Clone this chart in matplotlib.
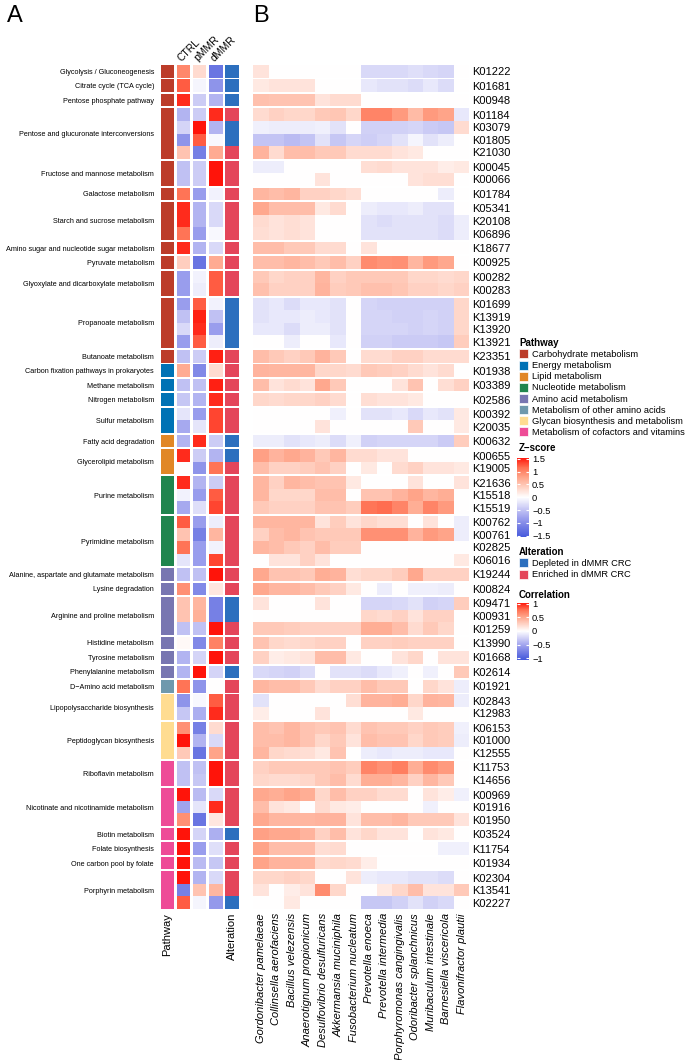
import matplotlib
matplotlib.use('Agg')
import matplotlib.pyplot as plt
import numpy as np
from matplotlib.colors import ListedColormap, LinearSegmentedColormap, Normalize
from matplotlib.patches import Patch
import matplotlib.cm as cm

plt.rcParams['font.family'] = ['Liberation Sans', 'DejaVu Sans']

categories = ['Carbohydrate metabolism', 'Energy metabolism', 'Lipid metabolism',
              'Nucleotide metabolism', 'Amino acid metabolism',
              'Metabolism of other amino acids', 'Glycan biosynthesis and metabolism',
              'Metabolism of cofactors and vitamins']
cat_colors = ['#BC3C29', '#0072B5', '#E18727', '#20854E', '#7876B1', '#6F99AD', '#FFDC91', '#EE4C97']

pathways = ['Glycolysis / Gluconeogenesis', 'Citrate cycle (TCA cycle)', 'Pentose phosphate pathway',
            'Pentose and glucuronate interconversions', 'Fructose and mannose metabolism',
            'Galactose metabolism', 'Starch and sucrose metabolism',
            'Amino sugar and nucleotide sugar metabolism', 'Pyruvate metabolism',
            'Glyoxylate and dicarboxylate metabolism', 'Propanoate metabolism', 'Butanoate metabolism',
            'Carbon fixation pathways in prokaryotes', 'Methane metabolism', 'Nitrogen metabolism',
            'Sulfur metabolism', 'Fatty acid degradation', 'Glycerolipid metabolism',
            'Purine metabolism', 'Pyrimidine metabolism',
            'Alanine, aspartate and glutamate metabolism', 'Lysine degradation',
            'Arginine and proline metabolism', 'Histidine metabolism', 'Tyrosine metabolism',
            'Phenylalanine metabolism', 'D\u2212Amino acid metabolism',
            'Lipopolysaccharide biosynthesis', 'Peptidoglycan biosynthesis', 'Riboflavin metabolism',
            'Nicotinate and nicotinamide metabolism', 'Biotin metabolism', 'Folate biosynthesis',
            'One carbon pool by folate', 'Porphyrin metabolism']
pathway_cat = [0]*12 + [1]*4 + [2]*2 + [3]*2 + [4]*6 + [5] + [6]*2 + [7]*6
pathway_kos = [['K01222'], ['K01681'], ['K00948'], ['K01184', 'K03079', 'K01805', 'K21030'],
               ['K00045', 'K00066'], ['K01784'], ['K05341', 'K20108', 'K06896'], ['K18677'],
               ['K00925'], ['K00282', 'K00283'], ['K01699', 'K13919', 'K13920', 'K13921'],
               ['K23351'], ['K01938'], ['K03389'], ['K02586'], ['K00392', 'K20035'], ['K00632'],
               ['K00655', 'K19005'], ['K21636', 'K15518', 'K15519'],
               ['K00762', 'K00761', 'K02825', 'K06016'], ['K19244'], ['K00824'],
               ['K09471', 'K00931', 'K01259'], ['K13990'], ['K01668'], ['K02614'], ['K01921'],
               ['K02843', 'K12983'], ['K06153', 'K01000', 'K12555'], ['K11753', 'K14656'],
               ['K00969', 'K01916', 'K01950'], ['K03524'], ['K11754'], ['K01934'],
               ['K02304', 'K13541', 'K02227']]

groups = ['CTRL', 'pMMR', 'dMMR']
ctrl = [0.95, 1.2, 1.4, -0.6, -0.35, -0.9, 0.5, -0.5, -0.5, 1.1, 1.4, 1.4, 1.1, 1.4, 0.4,
        -0.8, -0.8, -0.8, -0.5, -0.3, -0.8, -0.5, 0.7, -0.5, -0.45, -0.2, -0.7, -0.6, 1.4, 0.02,
        1.4, -0.1, -0.7, 1.2, 0.5, 1.1, -0.2, -0.5, 0.9, 0.5, 0.5, -0.5, 0.05, -0.6, -0.6, 1.1,
        -0.9, -0.45, 0.9, 1.5, 0.45, -0.5, -0.5, 1.5, -0.75, 0.9, 1.5, 1.5, 1.5, 1.5, -1.1, 1.2]
pmmr = [0.3, -0.08, -0.4, -0.4, 1.5, 1.2, -1.1, -0.4, -0.4, -0.8, -0.6, -0.6, -0.8, -0.6, -1.2,
        -0.1, -0.15, 1.2, 1.45, 1.4, 1.2, -0.4, -1.0, -0.5, -0.6, -0.8, -0.2, 1.4, -0.4, -0.9,
        -0.6, -0.8, -0.25, -0.8, -1.1, -0.8, -0.8, -0.5, -1.0, 0.6, 0.65, -0.5, -1.0, -0.35,
        1.5, -0.9, -0.05, -0.65, -1.1, -0.6, -1.2, -0.5, -0.45, -0.55, -0.2, -1.2, -0.35, -0.8,
        -0.55, -0.6, 0.5, -0.08]
dmmr = [-1.2, -0.9, -0.6, 1.4, -0.6, -0.05, 0.7, 1.5, 1.5, -0.1, -0.3, -0.3, -0.05, -0.3, 0.7,
        1.2, 1.2, -0.1, -0.5, -0.8, -0.15, 1.45, 0.3, 1.45, 1.4, 1.3, 1.3, -0.4, -0.6, 1.1, -0.4,
        1.2, 1.3, -0.15, 0.6, -0.1, 1.3, 1.5, 0.2, -1.1, -1.1, 1.5, 1.0, 1.5, -0.35, 0.0, 1.2,
        1.4, 0.3, -0.3, 0.75, 1.5, 1.5, -0.3, 1.4, 0.2, -0.65, -0.25, -0.45, -0.3, 0.6, -0.85]

alt_labels = ['Depleted in dMMR CRC', 'Enriched in dMMR CRC']
alt_colors = ['#2C6FBE', '#E4465A']
alteration = [0, 0, 0, 1, 0, 0, 1, 1, 1, 1, 1, 1, 1, 1, 1, 1, 1, 0, 0, 0, 0, 1, 1, 1, 1, 1, 1,
              0, 0, 1, 1, 1, 1, 1, 1, 1, 1, 1, 1, 0, 0, 1, 1, 1, 0, 1, 1, 1, 1, 1, 1, 1, 1, 1,
              1, 1, 0, 1, 1, 1, 1, 0]

species = ['Gordonibacter pamelaeae', 'Collinsella aerofaciens', 'Bacillus velezensis',
           'Anaerotignum propionicum', 'Desulfovibrio desulfuricans', 'Akkermansia muciniphila',
           'Fusobacterium nucleatum', 'Prevotella enoeca', 'Prevotella intermedia',
           'Porphyromonas cangingivalis', 'Odoribacter splanchnicus', 'Muribaculum intestinale',
           'Barnesiella viscericola', 'Flavonifractor plautii']

corr = [
    [0.15, 0, 0, 0, 0, 0, 0, -0.2, -0.2, -0.2, -0.17, -0.2, -0.22, 0],
    [0.12, 0.15, 0.15, 0.15, 0, 0, 0, -0.12, -0.15, -0.15, -0.18, -0.12, -0.18, 0],
    [0.35, 0.33, 0.33, 0.33, 0.15, 0.2, 0.2, 0, 0, 0, 0, 0, 0, 0],
    [0.2, 0.25, 0.22, 0.22, 0.3, 0.32, 0.22, 0.65, 0.65, 0.55, 0.38, 0.55, 0.5, -0.12],
    [-0.08, -0.1, -0.1, -0.1, -0.08, -0.15, 0, -0.25, -0.25, -0.25, -0.22, -0.28, -0.3, 0.2],
    [-0.32, -0.32, -0.36, -0.32, -0.15, -0.3, -0.22, -0.26, -0.22, -0.15, -0.05, -0.15, -0.1, 0],
    [0.42, 0.2, 0.36, 0.36, 0.3, 0.3, 0.2, 0.2, 0.2, 0.15, 0.12, 0, 0, 0],
    [-0.1, -0.1, 0, 0, 0, 0, 0, 0.18, 0.2, 0.15, 0.15, 0.15, 0.1, 0.12],
    [0, 0, 0, 0, 0.15, 0, 0, 0, 0, 0, 0.15, 0.18, 0.18, 0],
    [0.4, 0.36, 0.4, 0.25, 0.25, 0.22, 0.18, 0, 0, 0, 0, 0, -0.1, 0],
    [0.48, 0.36, 0.36, 0.36, 0.12, 0.2, 0, -0.1, -0.12, -0.12, -0.1, -0.15, -0.15, 0],
    [0.2, 0.15, 0.18, 0.15, 0, 0, 0, -0.15, -0.18, -0.15, -0.15, -0.15, -0.18, -0.1],
    [0.18, 0.15, 0.18, 0.15, 0, 0, 0, -0.15, -0.15, -0.15, -0.15, -0.15, -0.18, -0.1],
    [0.36, 0.36, 0.3, 0.3, 0.2, 0.2, 0, 0.15, 0, 0, 0, 0, 0, 0],
    [0.36, 0.36, 0.4, 0.36, 0.3, 0.36, 0.25, 0.62, 0.58, 0.6, 0.4, 0.55, 0.48, 0],
    [0.3, 0.22, 0.25, 0.25, 0.4, 0.25, 0.3, 0.3, 0.3, 0.3, 0.22, 0.22, 0.2, 0.22],
    [0.35, 0.25, 0.25, 0.25, 0.42, 0.28, 0.3, 0.35, 0.35, 0.32, 0.25, 0.25, 0.22, 0.25],
    [-0.15, -0.12, -0.18, -0.12, -0.12, -0.15, 0, -0.22, -0.25, -0.25, -0.25, -0.25, -0.25, 0.22],
    [-0.15, -0.12, -0.12, -0.1, -0.12, -0.15, 0, -0.22, -0.22, -0.25, -0.25, -0.22, -0.25, 0.22],
    [-0.12, -0.12, -0.18, -0.1, -0.1, -0.15, 0, -0.22, -0.22, -0.22, -0.25, -0.22, -0.25, 0.22],
    [0, 0, -0.1, 0, 0, -0.12, 0, -0.25, -0.25, -0.28, -0.28, -0.28, -0.3, 0.28],
    [0.36, 0.3, 0.25, 0.3, 0.42, 0.3, 0, 0.2, 0.2, 0.25, 0.25, 0.2, 0.2, 0.2],
    [0.42, 0.4, 0.4, 0.4, 0.22, 0.22, 0.2, 0.3, 0.28, 0.25, 0.2, 0.15, 0.2, 0],
    [0.36, 0.15, 0.2, 0.15, 0.48, 0.3, 0, 0, 0, 0.15, 0.33, 0, 0.18, 0.25],
    [0.22, 0.2, 0.22, 0.22, 0.25, 0.2, 0, 0.18, 0.15, 0.15, 0.12, 0, 0, 0],
    [0, 0, 0, 0, 0, -0.08, 0, -0.15, -0.15, -0.12, -0.2, -0.12, -0.15, 0.12],
    [0, 0, 0, 0, 0.15, 0, 0, 0, 0, 0, 0.3, 0, 0, 0.12],
    [-0.1, -0.1, -0.15, -0.12, -0.1, -0.18, -0.08, -0.25, -0.22, -0.22, -0.22, -0.22, -0.28, 0.28],
    [0.52, 0.42, 0.48, 0.42, 0.3, 0.4, 0.2, 0.2, 0.15, 0.15, 0, 0, 0, 0],
    [0.36, 0.25, 0.25, 0.28, 0.33, 0.25, 0, 0.12, 0, 0.2, 0.25, 0.15, 0.15, 0.12],
    [0.4, 0.25, 0.4, 0.36, 0.33, 0.33, 0.12, 0, 0, 0, 0.15, 0, 0, 0.15],
    [0.4, 0.22, 0.22, 0.22, 0.36, 0.36, 0, 0.33, 0.33, 0.42, 0.5, 0.4, 0.45, 0],
    [0.3, 0.25, 0.25, 0.25, 0.33, 0.33, 0.28, 0.72, 0.75, 0.65, 0.45, 0.65, 0.55, 0],
    [0.4, 0.4, 0.4, 0.4, 0.15, 0.28, 0.15, 0.22, 0.18, 0.18, 0, 0.15, 0, -0.1],
    [0.25, 0.36, 0.4, 0.33, 0.3, 0.3, 0.3, 0.6, 0.6, 0.6, 0.42, 0.55, 0.5, -0.1],
    [0.4, 0.36, 0.3, 0.25, 0.36, 0.28, 0.28, 0, 0, 0, 0, 0, 0, 0],
    [0, 0.15, 0.15, 0.25, 0.15, 0, 0, 0, 0, 0, 0, 0, 0, 0.12],
    [0.48, 0.33, 0.33, 0.3, 0.45, 0.42, 0.18, 0.22, 0.22, 0.28, 0.48, 0.25, 0.25, 0.25],
    [0.48, 0.4, 0.4, 0.36, 0.3, 0.25, 0.12, 0, -0.1, 0, -0.08, -0.08, -0.1, 0],
    [0.15, 0, 0, 0, 0.15, 0, 0, -0.22, -0.22, -0.2, -0.15, -0.25, -0.22, 0.28],
    [0, 0, 0, 0, 0, 0, 0, 0.22, 0.2, 0.25, 0.15, 0.25, 0.25, 0],
    [0.3, 0.3, 0.28, 0.25, 0.25, 0.25, 0.25, 0.45, 0.45, 0.36, 0.2, 0.3, 0.22, 0],
    [0.33, 0.22, 0.2, 0.22, 0.25, 0.25, 0, 0.25, 0.25, 0.28, 0.25, 0.25, 0.25, 0],
    [0.25, 0.1, 0.12, 0.15, 0.36, 0.36, 0.12, 0, 0, 0.15, 0.22, 0, 0.15, 0.15],
    [-0.2, -0.22, -0.25, -0.18, 0, -0.15, -0.15, -0.18, -0.12, -0.08, 0, -0.08, 0, 0.3],
    [0.4, 0.36, 0.36, 0.3, 0.2, 0.25, 0.25, 0.36, 0.3, 0.3, 0, 0.22, 0.15, -0.1],
    [-0.15, 0, 0, 0, 0, 0, 0.18, 0.42, 0.42, 0.45, 0.22, 0.42, 0.4, -0.1],
    [0.1, 0, 0, 0, 0.15, 0, 0, 0, 0, 0, 0.12, 0, 0, 0],
    [0.36, 0.33, 0.4, 0.33, 0.3, 0.33, 0.2, 0.33, 0.3, 0.3, 0.25, 0.3, 0.28, -0.08],
    [0.36, 0.36, 0.4, 0.33, 0.22, 0.3, 0.15, 0.36, 0.33, 0.33, 0.22, 0.3, 0.28, -0.1],
    [0.4, 0.22, 0.2, 0.18, 0.12, 0.33, 0, -0.1, -0.12, -0.1, -0.1, -0.12, -0.12, 0],
    [0.25, 0.3, 0.3, 0.3, 0.3, 0.33, 0.28, 0.65, 0.6, 0.68, 0.45, 0.62, 0.55, 0],
    [0.22, 0.2, 0.2, 0.22, 0.3, 0.36, 0.2, 0.45, 0.45, 0.4, 0.25, 0.4, 0.3, 0],
    [0.48, 0.45, 0.5, 0.45, 0.22, 0.36, 0.25, 0.25, 0.2, 0.2, 0, 0.15, 0.1, -0.08],
    [0.36, 0.15, 0.12, 0, 0.2, 0.12, 0.1, 0, 0, 0, 0, -0.08, 0, 0],
    [0.48, 0.4, 0.4, 0.4, 0.42, 0.42, 0.15, 0.36, 0.36, 0.4, 0.3, 0.3, 0.3, 0.15],
    [0.52, 0.48, 0.48, 0.42, 0.25, 0.36, 0.15, 0.22, 0.15, 0.15, 0, 0.15, 0.12, 0],
    [0.5, 0.36, 0.36, 0.36, 0.18, 0.2, 0, 0, 0, 0, 0, 0, -0.08, -0.08],
    [0.5, 0.42, 0.42, 0.4, 0.2, 0.22, 0.2, 0.1, 0, 0, 0, 0, 0, 0],
    [0.22, 0.22, 0.25, 0.22, 0, 0, 0.15, -0.1, -0.12, -0.12, -0.15, -0.15, -0.18, 0],
    [0.15, 0, 0.1, 0.15, 0.62, 0.22, 0, 0, 0.12, 0.22, 0.36, 0.15, 0.15, 0.3],
    [0, 0, 0.12, 0, 0, 0, 0, -0.3, -0.3, -0.25, -0.15, -0.25, -0.2, 0],
]

# blue-white-red ramp, roughly like ComplexHeatmap's LAB interpolation
ramp = LinearSegmentedColormap.from_list('ramp', [
    (0.0, '#465ADC'), (0.125, '#737DE4'), (0.25, '#A0A3EE'), (0.375, '#D0D0F6'),
    (0.5, '#FFFFFF'), (0.625, '#FFD2C4'), (0.75, '#FFA58A'), (0.875, '#FF7052'), (1.0, '#FF140A')])

# row layout with small gaps between pathways
GAP = 0.147
seq, yedges, centers, gcenters = [], [0.0], [], []
y, r = 0.0, 0
for gi, kos in enumerate(pathway_kos):
    if gi:
        seq.append(-1)
        y += GAP
        yedges.append(y)
    g0 = y
    for k in kos:
        seq.append(r)
        centers.append(y + 0.5)
        y += 1
        yedges.append(y)
        r += 1
    gcenters.append((g0 + y) / 2)
seq = np.array(seq)
yedges = np.array(yedges)
ko_labels = [k for kos in pathway_kos for k in kos]
sizes = [len(k) for k in pathway_kos]


def expand(v):
    v = np.asarray(v, dtype=float)
    out = np.full((len(seq), v.shape[1]), np.nan)
    out[seq >= 0] = v
    return np.ma.masked_invalid(out)


W, H = 688, 1060
TOP, BOT = 65, 909


def box(x0, x1, y0=TOP, y1=BOT):
    return [x0 / W, 1 - y1 / H, (x1 - x0) / W, (y1 - y0) / H]


def clean(ax):
    for s in ax.spines.values():
        s.set_visible(False)
    ax.set_ylim(yedges[-1], 0)


fig = plt.figure(figsize=(6.88, 10.6), dpi=100)

# pathway annotation
ax_p = fig.add_axes(box(160.7, 174))
row_cat = np.repeat(pathway_cat, sizes)
ax_p.pcolormesh([0, 1], yedges, expand(row_cat[:, None]), cmap=ListedColormap(cat_colors),
                vmin=-0.5, vmax=7.5)
clean(ax_p)
ax_p.set_yticks(gcenters, pathways, fontsize=5.25)
ax_p.set_xticks([0.5], ['Pathway'], rotation=90, fontsize=8, va='top')
ax_p.tick_params(axis='y', length=0, pad=4.8)
ax_p.tick_params(axis='x', length=0, pad=2.9)

# z-score heatmap
cg = 0.23
xz = [0, 1, 1 + cg, 2 + cg, 2 + 2 * cg, 3 + 2 * cg]
nan = np.full(len(ctrl), np.nan)
ax_z = fig.add_axes(box(176.7, 222.7))
ax_z.pcolormesh(xz, yedges, expand(np.column_stack([ctrl, nan, pmmr, nan, dmmr])),
                cmap=ramp, vmin=-1.5, vmax=1.5)
clean(ax_z)
ax_z.set_yticks([])
ax_z.xaxis.tick_top()
ax_z.set_xticks([0.5, 1.5 + cg, 2.5 + 2 * cg], groups, rotation=45, fontsize=7.5,
                ha='left', va='bottom', rotation_mode='anchor')
ax_z.tick_params(axis='x', length=0, pad=1.5)

# alteration annotation
ax_a = fig.add_axes(box(225.3, 238.7))
ax_a.pcolormesh([0, 1], yedges, expand(np.array(alteration)[:, None]),
                cmap=ListedColormap(alt_colors), vmin=-0.5, vmax=1.5)
clean(ax_a)
ax_a.set_yticks([])
ax_a.set_xticks([0.5], ['Alteration'], rotation=90, fontsize=8, va='top')
ax_a.tick_params(axis='x', length=0, pad=2.9)

# correlation heatmap
ax_c = fig.add_axes(box(253.3, 469.3))
ax_c.pcolormesh(np.arange(len(species) + 1), yedges, expand(corr), cmap=ramp, vmin=-1, vmax=1)
clean(ax_c)
ax_c.yaxis.tick_right()
ax_c.set_yticks(centers, ko_labels, fontsize=8)
ax_c.set_xticks(np.arange(len(species)) + 0.5, species, rotation=90, fontsize=8,
                style='italic', va='top')
ax_c.tick_params(length=0)
ax_c.tick_params(axis='y', pad=2)
ax_c.tick_params(axis='x', pad=2.9)

fig.text(7 / W, 1 - 22 / H, 'A', fontsize=17, va='baseline')
fig.text(253 / W, 1 - 22 / H, 'B', fontsize=17, va='baseline')

# legends
LX = 519 / W
tprops = {'weight': 'bold', 'size': 7}
fig.legend([Patch(facecolor=c, edgecolor='white', lw=0.5) for c in cat_colors], categories,
           loc='upper left', bbox_to_anchor=(LX, 1 - 338 / H), frameon=False, title='Pathway',
           title_fontproperties=tprops, alignment='left', fontsize=6.7, handlelength=1.0,
           handleheight=1.1, handletextpad=0.45, labelspacing=0.16, borderpad=0, borderaxespad=0)
fig.legend([Patch(facecolor=c, edgecolor='white', lw=0.5) for c in alt_colors], alt_labels,
           loc='upper left', bbox_to_anchor=(LX, 1 - 547 / H), frameon=False, title='Alteration',
           title_fontproperties=tprops, alignment='left', fontsize=6.7, handlelength=1.0,
           handleheight=1.1, handletextpad=0.45, labelspacing=0.16, borderpad=0, borderaxespad=0)


def color_legend(y0, y1, lo, hi, ticks, title, ty):
    cax = fig.add_axes(box(517.3, 529.3, y0, y1))
    cb = fig.colorbar(cm.ScalarMappable(Normalize(lo, hi), ramp), cax=cax, ticks=ticks)
    cb.set_ticklabels([('%g' % t).replace('-', '\u2212') for t in ticks])
    cb.outline.set_visible(False)
    cax.tick_params(left=True, right=True, labelleft=False, labelright=True, direction='in',
                    color='white', length=2.5, width=0.8, labelsize=6.7, pad=2)
    fig.text(LX, 1 - ty / H, title, fontsize=7, weight='bold', va='center')


color_legend(457.5, 537, -1.55, 1.55, [-1.5, -1, -0.5, 0, 0.5, 1, 1.5], 'Z\u2212score', 448)
color_legend(602.5, 659.5, -1.05, 1.05, [-1, -0.5, 0, 0.5, 1], 'Correlation', 595)

fig.savefig('out.png', dpi=100)
